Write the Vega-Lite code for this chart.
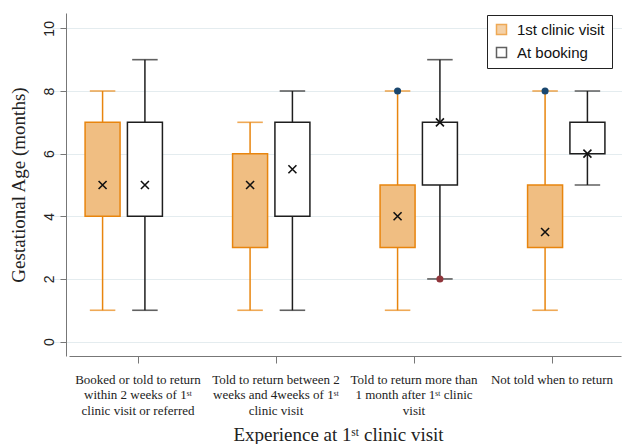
{
  "$schema": "https://vega.github.io/schema/vega-lite/v6.json",
  "width": 556,
  "height": 343,
  "autosize": "none",
  "padding": {"left": 66, "top": 13, "right": 0, "bottom": 88},
  "background": "white",
  "data": {"values": [
    {"group": "Booked or told to return|within 2 weeks of 1ˢᵗ|clinic visit or referred", "series": "1st clinic visit", "lo": 1, "q1": 4, "q3": 7, "hi": 8, "mean": 5, "dot": null},
    {"group": "Booked or told to return|within 2 weeks of 1ˢᵗ|clinic visit or referred", "series": "At booking", "lo": 1, "q1": 4, "q3": 7, "hi": 9, "mean": 5, "dot": null},
    {"group": "Told to return between 2|weeks and 4weeks of 1ˢᵗ|clinic visit", "series": "1st clinic visit", "lo": 1, "q1": 3, "q3": 6, "hi": 7, "mean": 5, "dot": null},
    {"group": "Told to return between 2|weeks and 4weeks of 1ˢᵗ|clinic visit", "series": "At booking", "lo": 1, "q1": 4, "q3": 7, "hi": 8, "mean": 5.5, "dot": null},
    {"group": "Told to return more than|1 month after 1ˢᵗ clinic|visit", "series": "1st clinic visit", "lo": 1, "q1": 3, "q3": 5, "hi": 8, "mean": 4, "dot": 8},
    {"group": "Told to return more than|1 month after 1ˢᵗ clinic|visit", "series": "At booking", "lo": 2, "q1": 5, "q3": 7, "hi": 9, "mean": 7, "dot": 2},
    {"group": "Not told when to return", "series": "1st clinic visit", "lo": 1, "q1": 3, "q3": 5, "hi": 8, "mean": 3.5, "dot": 8},
    {"group": "Not told when to return", "series": "At booking", "lo": 5, "q1": 6, "q3": 7, "hi": 8, "mean": 6, "dot": null}
  ]},
  "layer": [
    {
      "encoding": {
        "x": {"field": "group", "type": "nominal", "sort": null, "scale": {"range": [-16, 574], "paddingInner": 0, "paddingOuter": 0}, "axis": null},
        "xOffset": {"field": "series", "type": "nominal", "sort": ["1st clinic visit", "At booking"], "scale": {"paddingInner": 0, "paddingOuter": 0.742}}
      },
      "layer": [
        {
          "mark": {"type": "rule", "strokeWidth": 1.5},
          "encoding": {
            "y": {"field": "lo", "type": "quantitative", "scale": {"domain": [-0.46, 10.49], "nice": false, "zero": false},
              "axis": {"values": [0, 2, 4, 6, 8, 10], "title": "Gestational Age (months)", "grid": true, "gridColor": "#E4ECEF", "gridWidth": 1,
                "domainColor": "#777", "tickColor": "#777", "tickSize": 6, "labelAngle": -90, "labelFont": "Liberation Sans", "labelFontSize": 14, "labelColor": "#222",
                "labelPadding": 4, "titleFont": "Liberation Serif", "titleFontSize": 19, "titleFontWeight": "normal", "titleColor": "#222", "titlePadding": 14}},
            "y2": {"field": "hi"},
            "stroke": {"field": "series", "type": "nominal", "scale": {"domain": ["1st clinic visit", "At booking"], "range": ["#E8850E", "#1e1e1e"]}, "legend": {"title": null}}
          }
        },
        {
          "mark": {"type": "tick", "size": 24, "thickness": 0.1, "filled": false, "strokeWidth": 1.5},
          "encoding": {
            "y": {"field": "lo", "type": "quantitative"},
            "stroke": {"field": "series", "type": "nominal", "legend": {"title": null}}
          }
        },
        {
          "mark": {"type": "tick", "size": 24, "thickness": 0.1, "filled": false, "strokeWidth": 1.5},
          "encoding": {
            "y": {"field": "hi", "type": "quantitative"},
            "stroke": {"field": "series", "type": "nominal", "legend": {"title": null}}
          }
        },
        {
          "mark": {"type": "bar", "width": 35, "strokeWidth": 1.5},
          "encoding": {
            "y": {"field": "q1", "type": "quantitative"},
            "y2": {"field": "q3"},
            "fill": {"field": "series", "type": "nominal", "scale": {"domain": ["1st clinic visit", "At booking"], "range": ["#F0BE82", "#ffffff"]}, "legend": {"title": null}},
            "stroke": {"field": "series", "type": "nominal", "legend": {"title": null}}
          }
        },
        {
          "mark": {"type": "point", "shape": "M-1,-1L1,1M-1,1L1,-1", "size": 64, "filled": false, "stroke": "#111", "strokeWidth": 1.6, "opacity": 1},
          "encoding": {
            "y": {"field": "mean", "type": "quantitative"}
          }
        },
        {
          "transform": [{"filter": "isValid(datum.dot)"}],
          "mark": {"type": "point", "shape": "circle", "size": 50, "filled": true, "opacity": 1},
          "encoding": {
            "y": {"field": "dot", "type": "quantitative"},
            "fill": {"condition": {"test": "datum.series === 'At booking'", "value": "#90353B"}, "value": "#1A476F"}
          }
        }
      ]
    },
    {
      "mark": {"type": "rule", "opacity": 0},
      "encoding": {
        "x": {"field": "group", "type": "nominal", "sort": null, "scale": {"range": [3, 555], "paddingInner": 0, "paddingOuter": 0},
          "axis": {"title": "Experience at 1ˢᵗ clinic visit", "labelExpr": "split(datum.value, '|')", "labelAngle": 0, "labelFont": "Liberation Serif", "labelFontSize": 13, "labelLineHeight": 15.5, "labelColor": "#222",
            "labelPadding": 10, "labelBaseline": "top", "tickSize": 7, "tickColor": "#777", "domainColor": "#777", "labelLimit": 200, "labelOverlap": false,
            "titleFont": "Liberation Serif", "titleFontSize": 19, "titleFontWeight": "normal", "titleColor": "#222", "titlePadding": 8, "titleX": 272}}
      }
    }
  ],
  "resolve": {"scale": {"x": "independent"}},
  "config": {
    "view": {"stroke": null},
    "legend": {"orient": "none", "legendX": 421, "legendY": 2, "strokeColor": "#222", "fillColor": "white", "padding": 7,
      "symbolType": "square", "symbolSize": 100, "symbolStrokeWidth": 1.5, "labelFont": "Liberation Sans", "labelFontSize": 15, "labelColor": "#111", "rowPadding": 6, "labelOffset": 8}
  }
}
